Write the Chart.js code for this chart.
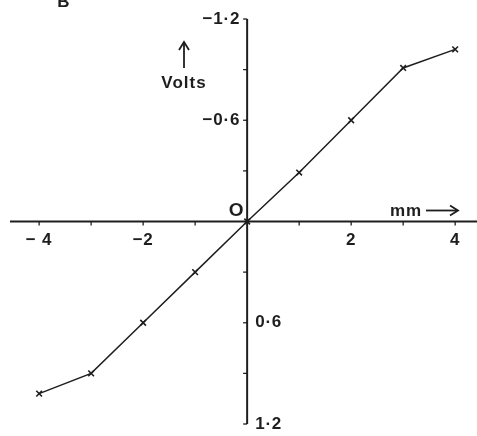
<!DOCTYPE html>
<html>
<head>
<meta charset="utf-8">
<script src="https://cdn.jsdelivr.net/npm/chart.js@4"></script>
<style>
  html, body { margin:0; padding:0; background:#fff; }
  #wrap { position:relative; width:477px; height:436px; }
</style>
</head>
<body>
<div id="wrap"><canvas id="voltChart"></canvas></div>
<script>
// data: displacement (mm) vs volts (negative up)
var mmValues    = [-4, -3, -2, -1, 0, 1, 2, 3, 4];
var voltValues  = [1.02, 0.90, 0.60, 0.30, 0, -0.29, -0.60, -0.91, -1.02];
var xTickLabels = [-4, -2, 2, 4];
var xMinorTicks = [-4, -3, -2, -1, 1, 2, 3, 4];
var yTickLabels = [-1.2, -0.6, 0.6, 1.2];
var yMinorTicks = [-1.2, -0.9, -0.6, -0.3, 0.3, 0.6, 0.9, 1.2];

var ink = '#1e1e1e';
var family = '"Liberation Sans", Arial, sans-serif';

function fmt(v, dec) {
    var s = Math.abs(v).toFixed(dec).replace('.', '\u00b7');
    return v < 0 ? '\u2212' + s : s;
}

// axes drawn through the origin, labels as in the original figure
var crossAxes = {
    id: 'crossAxes',
    beforeDatasetsDraw: function (chart) {
        var c = chart.ctx, xs = chart.scales.x, ys = chart.scales.y, a = chart.chartArea;
        var x0 = xs.getPixelForValue(0), y0 = ys.getPixelForValue(0);
        c.save();
        c.strokeStyle = ink; c.fillStyle = ink; c.lineWidth = 2;
        // x axis
        c.beginPath(); c.moveTo(a.left, y0); c.lineTo(a.right, y0); c.stroke();
        // y axis
        var yTop = ys.getPixelForValue(-1.2), yBot = ys.getPixelForValue(1.2);
        c.beginPath(); c.moveTo(x0, yTop); c.lineTo(x0, yBot); c.stroke();
        c.lineWidth = 1.3;
        xMinorTicks.forEach(function (v) {
            var px = xs.getPixelForValue(v);
            c.beginPath(); c.moveTo(px, y0); c.lineTo(px, y0 + 4); c.stroke();
        });
        yMinorTicks.forEach(function (v) {
            var py = ys.getPixelForValue(v);
            c.beginPath(); c.moveTo(x0, py); c.lineTo(x0 - 4, py); c.stroke();
        });
        c.font = 'bold 17px ' + family;
        c.letterSpacing = '0.8px';
        c.textBaseline = 'middle';
        c.textAlign = 'center';
        xTickLabels.forEach(function (v) {
            var t = v === -4 ? '\u2212 4' : fmt(v, 0);
            c.fillText(t, xs.getPixelForValue(v), y0 + 19);
        });
        yTickLabels.forEach(function (v) {
            var py = ys.getPixelForValue(v);
            if (v < 0) { c.textAlign = 'right'; c.fillText(fmt(v, 1), x0 - 7, py); }
            else       { c.textAlign = 'left';  c.fillText(fmt(v, 1), x0 + 8, py); }
        });
        // origin, units, panel letter
        c.textAlign = 'center';
        c.letterSpacing = '0px';
        c.font = 'bold 19px ' + family;
        c.fillText('O', x0 - 11, y0 - 11);
        c.font = 'bold 17px ' + family;
        c.letterSpacing = '1px';
        c.textAlign = 'left';
        c.fillText('mm', 390, y0 - 10);
        c.textAlign = 'center';
        c.fillText('Volts', 184, 83);
        c.fillText('B', 64, 2);
        // arrows
        c.lineWidth = 1.8;
        c.beginPath(); c.moveTo(426, y0 - 11); c.lineTo(457, y0 - 11); c.stroke();
        c.beginPath(); c.moveTo(450, y0 - 16); c.lineTo(458, y0 - 11); c.lineTo(450, y0 - 6); c.stroke();
        c.beginPath(); c.moveTo(184, 68); c.lineTo(184, 43); c.stroke();
        c.beginPath(); c.moveTo(179, 50); c.lineTo(184, 42); c.lineTo(189, 50); c.stroke();
        c.restore();
    }
};

new Chart(document.getElementById('voltChart'), {
    type: 'scatter',
    data: {
        datasets: [{
            data: mmValues.map(function (x, i) { return { x: x, y: voltValues[i] }; }),
            showLine: true,
            borderColor: ink, borderWidth: 1.5,
            pointStyle: 'crossRot', pointRadius: 4, pointBorderWidth: 1.6,
            pointBorderColor: ink, pointBackgroundColor: ink
        }]
    },
    options: {
        responsive: true, maintainAspectRatio: false, animation: false,
        layout: { autoPadding: false, padding: { left: 10, right: 0, top: 19, bottom: 12 } },
        plugins: { legend: { display: false }, tooltip: { enabled: false } },
        scales: {
            x: { type: 'linear', display: false, min: -4.56, max: 4.42 },
            y: { type: 'linear', display: false, min: -1.2, max: 1.2, reverse: true }
        }
    },
    plugins: [crossAxes]
});
</script>
</body>
</html>
